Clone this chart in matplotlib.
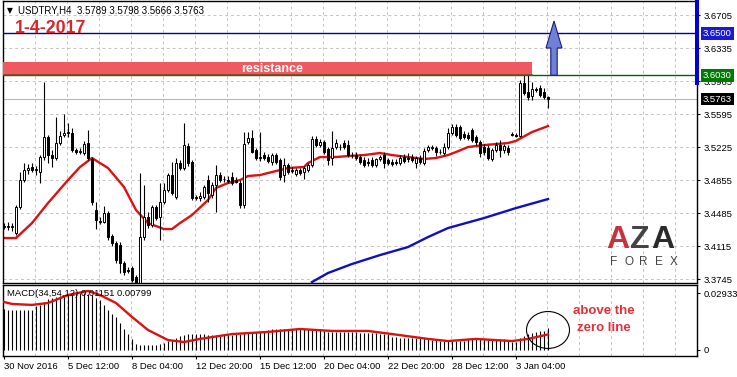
import numpy as np
import matplotlib.pyplot as plt
from matplotlib.patches import Rectangle, Ellipse, FancyArrow
from matplotlib.transforms import blended_transform_factory

plt.rcParams['font.family'] = ['Liberation Sans', 'DejaVu Sans']

# USDTRY H4 candles (open, high, low, close), bar 0 = 30 Nov 2016 20:00
opens = [3.4340, 3.4329, 3.4340, 3.4261, 3.4553, 3.4855, 3.4967, 3.5001, 3.4967, 3.4945,
         3.5113, 3.5338, 3.5136, 3.5102, 3.5270, 3.5360, 3.5394, 3.5382, 3.5192, 3.5169,
         3.5158, 3.5270, 3.5091, 3.4519, 3.4396, 3.4385, 3.4485, 3.4228, 3.4149, 3.4127,
         3.3925, 3.3846, 3.3869, 3.3768, 3.3700, 3.4217, 3.4441, 3.4351, 3.4553, 3.4441,
         3.4609, 3.4743, 3.4911, 3.4665, 3.5046, 3.4990, 3.5237, 3.5057, 3.4665, 3.4654,
         3.4665, 3.4855, 3.4687, 3.4799, 3.4911, 3.4866, 3.4855, 3.4889, 3.4855, 3.4822,
         3.4575, 3.5282, 3.5326, 3.5192, 3.5102, 3.5136, 3.5113, 3.5057, 3.5136, 3.5080,
         3.4911, 3.5024, 3.4967, 3.4923, 3.4967, 3.4945, 3.4967, 3.5024, 3.5315, 3.5248,
         3.5282, 3.5203, 3.5102, 3.5226, 3.5226, 3.5270, 3.5248, 3.5136, 3.5136, 3.5113,
         3.5080, 3.5057, 3.5080, 3.5024, 3.5091, 3.5136, 3.5080, 3.5057, 3.5057, 3.5046,
         3.5113, 3.5102, 3.5113, 3.5046, 3.5102, 3.5046, 3.5192, 3.5214, 3.5214, 3.5169,
         3.5158, 3.5226, 3.5382, 3.5449, 3.5449, 3.5371, 3.5360, 3.5416, 3.5338, 3.5282,
         3.5226, 3.5214, 3.5091, 3.5192, 3.5248, 3.5192, 3.5214, 3.5371, 3.5360, 3.5349,
         3.5943, 3.5842, 3.5797, 3.5875, 3.5887, 3.5842, 3.5789]
highs = [3.4373, 3.4385, 3.4373, 3.4575, 3.4945, 3.5046, 3.5035, 3.5046, 3.5013, 3.5136,
         3.5954, 3.5360, 3.5192, 3.5561, 3.5405, 3.5595, 3.5494, 3.5438, 3.5214, 3.5214,
         3.5293, 3.5416, 3.5113, 3.4609, 3.4441, 3.4564, 3.4508, 3.4250, 3.4172, 3.4160,
         3.3948, 3.3880, 3.3891, 3.3790, 3.4934, 3.4799, 3.4497, 3.4575, 3.4575, 3.4822,
         3.4822, 3.4934, 3.5057, 3.5102, 3.5080, 3.5494, 3.5270, 3.5080, 3.4687, 3.4721,
         3.4799, 3.4911, 3.4833, 3.5024, 3.4945, 3.4900, 3.4900, 3.4945, 3.4889, 3.4855,
         3.5394, 3.5394, 3.5416, 3.5214, 3.5394, 3.5169, 3.5147, 3.5158, 3.5158, 3.5102,
         3.5102, 3.5046, 3.5001, 3.4990, 3.4990, 3.5013, 3.5046, 3.5349, 3.5349, 3.5315,
         3.5304, 3.5226, 3.5405, 3.5315, 3.5259, 3.5304, 3.5304, 3.5169, 3.5169, 3.5136,
         3.5113, 3.5102, 3.5113, 3.5102, 3.5136, 3.5169, 3.5102, 3.5091, 3.5091, 3.5136,
         3.5147, 3.5158, 3.5147, 3.5125, 3.5136, 3.5214, 3.5248, 3.5248, 3.5237, 3.5203,
         3.5270, 3.5438, 3.5483, 3.5483, 3.5472, 3.5405, 3.5394, 3.5438, 3.5360, 3.5304,
         3.5259, 3.5248, 3.5214, 3.5282, 3.5304, 3.5259, 3.5248, 3.5394, 3.5382, 3.5976,
         3.6032, 3.6032, 3.5954, 3.5898, 3.5920, 3.5887, 3.5798]
lows = [3.4306, 3.4295, 3.4284, 3.4239, 3.4530, 3.4833, 3.4923, 3.4945, 3.4911, 3.4822,
        3.5080, 3.5046, 3.5001, 3.5080, 3.5248, 3.5338, 3.5338, 3.5169, 3.5147, 3.5147,
        3.5136, 3.5080, 3.4575, 3.4306, 3.4362, 3.4373, 3.4183, 3.4116, 3.3925, 3.3813,
        3.3790, 3.3813, 3.3712, 3.3667, 3.3667, 3.4183, 3.4317, 3.4329, 3.4407, 3.4183,
        3.4586, 3.4721, 3.4687, 3.4642, 3.4967, 3.4967, 3.5013, 3.4631, 3.4631, 3.4620,
        3.4642, 3.4609, 3.4654, 3.4497, 3.4833, 3.4833, 3.4822, 3.4799, 3.4822, 3.4541,
        3.4541, 3.5259, 3.5158, 3.5080, 3.5069, 3.5080, 3.5046, 3.5024, 3.5035, 3.4855,
        3.4833, 3.4923, 3.4934, 3.4900, 3.4911, 3.4866, 3.4945, 3.5001, 3.5226, 3.5226,
        3.5147, 3.5024, 3.5024, 3.5203, 3.5192, 3.5203, 3.5113, 3.5102, 3.5080, 3.5035,
        3.5001, 3.5013, 3.5001, 3.5001, 3.5069, 3.4990, 3.5024, 3.5013, 3.5024, 3.5024,
        3.5046, 3.5057, 3.5057, 3.4990, 3.5035, 3.5024, 3.5169, 3.5192, 3.5125, 3.5147,
        3.5136, 3.5203, 3.5360, 3.5338, 3.5304, 3.5315, 3.5304, 3.5282, 3.5248, 3.5113,
        3.5136, 3.5080, 3.5069, 3.5169, 3.5113, 3.5158, 3.5136, 3.5349, 3.5338, 3.5338,
        3.5808, 3.5752, 3.5752, 3.5842, 3.5786, 3.5763, 3.5666]
closes = [3.4329, 3.4340, 3.4329, 3.4553, 3.4855, 3.4967, 3.4990, 3.4967, 3.4979, 3.5113,
          3.5338, 3.5136, 3.5102, 3.5270, 3.5349, 3.5382, 3.5382, 3.5192, 3.5169, 3.5181,
          3.5259, 3.5102, 3.4609, 3.4407, 3.4385, 3.4485, 3.4217, 3.4149, 3.3959, 3.3925,
          3.3824, 3.3835, 3.3734, 3.3700, 3.4217, 3.4441, 3.4351, 3.4553, 3.4429, 3.4609,
          3.4743, 3.4911, 3.4710, 3.5046, 3.4990, 3.5248, 3.5046, 3.4654, 3.4654, 3.4676,
          3.4777, 3.4710, 3.4799, 3.4911, 3.4855, 3.4870, 3.4844, 3.4822, 3.4833, 3.4575,
          3.5259, 3.5326, 3.5169, 3.5102, 3.5113, 3.5102, 3.5069, 3.5136, 3.5057, 3.4889,
          3.5024, 3.4945, 3.4956, 3.4967, 3.4934, 3.4990, 3.5024, 3.5315, 3.5248, 3.5282,
          3.5169, 3.5080, 3.5214, 3.5270, 3.5231, 3.5226, 3.5136, 3.5131, 3.5102, 3.5057,
          3.5024, 3.5046, 3.5024, 3.5091, 3.5113, 3.5046, 3.5046, 3.5035, 3.5046, 3.5102,
          3.5069, 3.5091, 3.5080, 3.5102, 3.5057, 3.5181, 3.5226, 3.5226, 3.5169, 3.5164,
          3.5226, 3.5382, 3.5449, 3.5360, 3.5326, 3.5338, 3.5326, 3.5304, 3.5282, 3.5158,
          3.5169, 3.5102, 3.5192, 3.5248, 3.5192, 3.5237, 3.5169, 3.5360, 3.5349, 3.5943,
          3.5831, 3.5786, 3.5875, 3.5864, 3.5808, 3.5786, 3.5763]

# moving averages (bar index, value)
ma_fast_bar = [0, 3, 7, 11, 16, 19, 22, 26, 30, 33, 36, 40, 42, 44, 47, 51, 53, 56, 59, 61,
               64, 66, 69, 71, 75, 76, 79, 83, 86, 90, 94, 97, 101, 105, 108, 111, 113, 116,
               120, 126, 128, 132, 136]
ma_fast = [3.4205, 3.4205, 3.4373, 3.4597, 3.4855, 3.5001, 3.5102, 3.4990, 3.4777, 3.4519,
           3.4373, 3.4306, 3.4306, 3.4373, 3.4463, 3.4631, 3.4766, 3.4822, 3.4855, 3.4900,
           3.4911, 3.4934, 3.4967, 3.4990, 3.5001, 3.5046, 3.5113, 3.5113, 3.5124, 3.5135,
           3.5158, 3.5135, 3.5113, 3.5091, 3.5102, 3.5135, 3.5169, 3.5225, 3.5247, 3.5270,
           3.5294, 3.5393, 3.5460]
ma_slow_bar = [77, 81, 87, 94, 101, 106, 111, 120, 128, 136]
ma_slow = [3.3712, 3.3813, 3.3914, 3.4014, 3.4104, 3.4216, 3.4317, 3.4429, 3.4541, 3.4642]

# MACD histogram (one per bar) and signal line
macd_hist = [0.0211, 0.0206, 0.0206, 0.0206, 0.0206, 0.0206, 0.0206, 0.0208,
             0.0225, 0.0232, 0.0245, 0.0262, 0.0268, 0.0274, 0.0278, 0.0282,
             0.0287, 0.0290, 0.0293, 0.0293, 0.0293, 0.0290, 0.0282, 0.0270,
             0.0255, 0.0232, 0.0206, 0.0185, 0.0168, 0.0140, 0.0110, 0.0080,
             0.0055, 0.0031, 0.0026, 0.0026, 0.0026, 0.0026, 0.0026, 0.0031,
             0.0036, 0.0044, 0.0051, 0.0062, 0.0072, 0.0077, 0.0082, 0.0082,
             0.0082, 0.0082, 0.0082, 0.0077, 0.0077, 0.0077, 0.0077, 0.0077,
             0.0077, 0.0077, 0.0082, 0.0084, 0.0087, 0.0087, 0.0090, 0.0093,
             0.0093, 0.0100, 0.0105, 0.0108, 0.0108, 0.0108, 0.0108, 0.0108,
             0.0108, 0.0108, 0.0108, 0.0108, 0.0108, 0.0108, 0.0108, 0.0108,
             0.0100, 0.0095, 0.0093, 0.0093, 0.0093, 0.0093, 0.0093, 0.0093,
             0.0093, 0.0090, 0.0087, 0.0087, 0.0087, 0.0085, 0.0084, 0.0082,
             0.0082, 0.0067, 0.0065, 0.0064, 0.0062, 0.0062, 0.0062, 0.0062,
             0.0062, 0.0062, 0.0057, 0.0052, 0.0049, 0.0046, 0.0046, 0.0046,
             0.0046, 0.0046, 0.0046, 0.0046, 0.0057, 0.0057, 0.0057, 0.0057,
             0.0057, 0.0057, 0.0057, 0.0057, 0.0057, 0.0057, 0.0046, 0.0041,
             0.0041, 0.0062, 0.0072, 0.0082, 0.0087, 0.0093, 0.0096, 0.0100, 0.0115]
sig_bar = [0, 2, 7, 11, 16, 21, 24, 28, 32, 36, 41, 45, 49, 57, 66, 74, 82, 91, 97,
           106, 111, 118, 127, 131, 136]
sig_val = [0.0247, 0.0237, 0.0232, 0.0242, 0.0283, 0.0304, 0.0283, 0.0242, 0.0170, 0.0103,
           0.0051, 0.0041, 0.0057, 0.0082, 0.0093, 0.0108, 0.0098, 0.0098, 0.0082, 0.0057,
           0.0046, 0.0057, 0.0046, 0.0057, 0.0080]

date_pos = [0, 16, 32, 48, 64, 80, 96, 112, 128]
date_labels = ["30 Nov 2016", "5 Dec 12:00", "8 Dec 04:00", "12 Dec 20:00", "15 Dec 12:00",
               "20 Dec 04:00", "22 Dec 20:00", "28 Dec 12:00", "3 Jan 04:00"]
price_ticks = [3.3745, 3.4115, 3.4485, 3.4855, 3.5225, 3.5595, 3.5965, 3.6335, 3.6705]

resistance = 3.6030
target = 3.6500
last_price = closes[-1]

fig = plt.figure(figsize=(7.37, 3.77), dpi=100)
ax = fig.add_axes([3/737, 94/377, 694/737, 282/377])
ax2 = fig.add_axes([3/737, 21/377, 694/737, 71/377])

x = np.arange(len(closes))
o = np.array(opens); h = np.array(highs); l = np.array(lows); c = np.array(closes)

# grid
for p in price_ticks:
    ax.axhline(p, color='#c4c4c4', lw=0.7, ls=(0, (3, 3)), zorder=0)
for k in range(1, 22):
    ax.axvline(8*k - 0.25, color='#c4c4c4', lw=0.7, ls=(0, (3, 3)), zorder=0)
    ax2.axvline(8*k - 0.25, color='#c4c4c4', lw=0.7, ls=(0, (3, 3)), zorder=0)

# horizontal levels
ax.axhline(last_price, color='#b8b8b8', lw=0.8, zorder=1)
ax.axhline(resistance, color='#006400', lw=1.0, zorder=1)
ax.axhline(target, color='#0000aa', lw=1.0, zorder=1)

# candles
ax.vlines(x, l, h, color='black', lw=0.8, zorder=3)
up = c >= o
body_h = np.maximum(np.abs(c - o), 0.0004)
ax.bar(x[up], body_h[up], bottom=np.minimum(o, c)[up], width=0.7,
       color='white', edgecolor='black', lw=0.7, zorder=4)
ax.bar(x[~up], body_h[~up], bottom=np.minimum(o, c)[~up], width=0.7,
       color='black', edgecolor='black', lw=0.7, zorder=4)

# moving averages
ax.plot(ma_fast_bar, ma_fast, color='#dd1111', lw=1.7, zorder=2)
ax.plot(ma_slow_bar, ma_slow, color='#1010c0', lw=1.7, zorder=2)

# resistance zone
ax.add_patch(Rectangle((-1, resistance), 133, 0.0145, facecolor='#ef5a60',
                       edgecolor='none', zorder=5))
ax.plot([-1, 132], [resistance, resistance], color='#7a4a1a', lw=1.2, zorder=5)
ax.text(67, resistance + 0.0073, 'resistance', color='white', fontsize=9,
        fontweight='bold', ha='center', va='center', zorder=6)

# target arrow
ax.add_patch(FancyArrow(137.5, resistance, 0, 0.0608, width=1.6, head_width=4,
                        head_length=0.0303, length_includes_head=True,
                        facecolor='#7080d8', edgecolor='#1a1a80', lw=0.8, zorder=6))

ax.set_xlim(-0.25, 173.25)
ax.set_ylim(3.3701, 3.6862)
ax.set_xticks([])
ax.yaxis.tick_right()
ax.set_yticks(price_ticks)
ax.set_yticklabels(['%.4f' % p for p in price_ticks])
ax.tick_params(axis='y', direction='out', length=2.5, pad=2.5, labelsize=6.8, width=0.8)
for s in ax.spines.values():
    s.set_linewidth(1.0)

# price tags on the right scale
tr = blended_transform_factory(ax.transAxes, ax.transData)
ax.add_patch(Rectangle((0.9971, 3.5920), 0.0058, 0.095, transform=tr,
                       facecolor='#0000dd', edgecolor='none', clip_on=False, zorder=7))
for val, col in [(target, '#1a1ad0'), (resistance, '#007a00'), (last_price, 'black')]:
    ax.text(1.0086, val, '%.4f' % val, transform=tr, color='white', fontsize=6.8,
            va='center', ha='left', zorder=8,
            bbox=dict(boxstyle='square,pad=0.2', fc=col, ec='none'))

# headers
ax.text(0.010, 0.968, '\u25BC', transform=ax.transAxes, fontsize=5.5, va='center',
        ha='center', family=['DejaVu Sans'])
ax.text(0.0216, 0.968, 'USDTRY,H4  3.5789 3.5798 3.5666 3.5763', transform=ax.transAxes,
        fontsize=7, va='center', ha='left')
ax.text(0.0173, 0.904, '1-4-2017', transform=ax.transAxes, fontsize=12.8,
        fontweight='bold', color='#d9262b', va='center', ha='left')

# logo
ax.text(0.886, 0.152, 'A', transform=ax.transAxes, fontsize=23, fontweight='bold',
        color='#c8323c', ha='center', va='center', zorder=2)
ax.text(0.917, 0.152, 'Z', transform=ax.transAxes, fontsize=23, fontweight='bold',
        color='#444444', ha='center', va='center', zorder=2)
ax.text(0.950, 0.152, 'A', transform=ax.transAxes, fontsize=23, fontweight='bold',
        color='#2a2a2a', ha='center', va='center', zorder=2)
for i, ch in enumerate('FOREX'):
    ax.text(0.880 + i*0.0215, 0.074, ch, transform=ax.transAxes, fontsize=8.5,
            color='#444444', ha='center', va='center')

# MACD pane
ax2.vlines(x, 0, macd_hist, color='black', lw=0.8, zorder=2)
ax2.plot(sig_bar, sig_val, color='#dd1111', lw=1.7, zorder=3)
ax2.add_patch(Ellipse((136, 0.0103), 10.75, 0.0190, fill=False, ec='black', lw=0.8, zorder=4))
ax2.text(142.25, 0.0201, 'above the', color='#e0303a', fontsize=9.5, fontweight='bold',
         ha='left', va='center')
ax2.text(143.25, 0.0113, 'zero line', color='#e0303a', fontsize=9.5, fontweight='bold',
         ha='left', va='center')
ax2.text(0.006, 0.887, 'MACD(34,54,12) 0.01151 0.00799', transform=ax2.transAxes,
         fontsize=6.8, va='center', ha='left', zorder=5)
ax2.set_xlim(-0.25, 173.25)
ax2.set_ylim(-0.00309, 0.03345)
ax2.yaxis.tick_right()
ax2.set_yticks([0, 0.02933])
ax2.set_yticklabels(['0', '0.02933'])
ax2.tick_params(axis='y', direction='out', length=2.5, pad=2.5, labelsize=6.8, width=0.8)
ax2.set_xticks(date_pos)
ax2.set_xticklabels(date_labels)
ax2.tick_params(axis='x', direction='out', length=2.5, pad=1.5, labelsize=6.8, width=0.8)
for lbl in ax2.get_xticklabels():
    lbl.set_horizontalalignment('left')
for s in ax2.spines.values():
    s.set_linewidth(1.0)

fig.savefig('out.png', dpi=100)
